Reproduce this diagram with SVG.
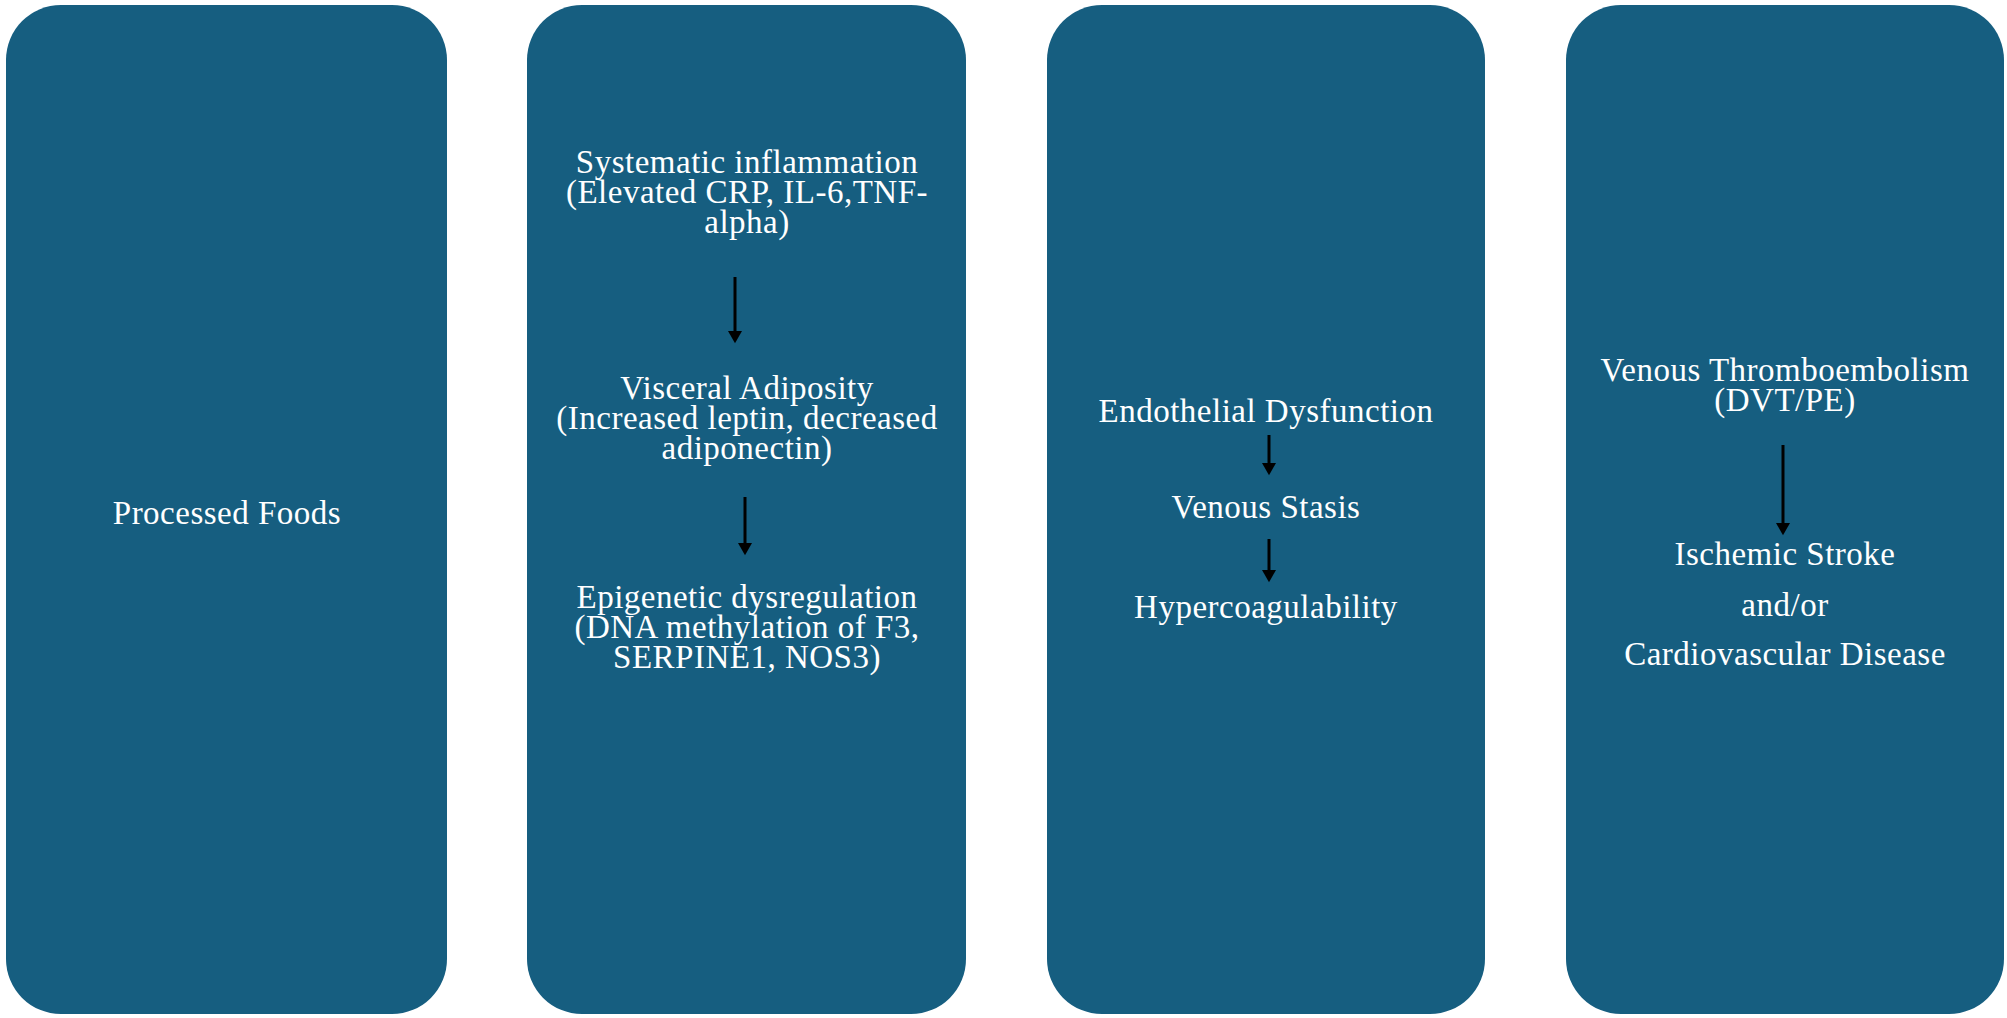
<svg xmlns="http://www.w3.org/2000/svg" width="2007" height="1018" viewBox="0 0 2007 1018">
<style>
.box{fill:#165e80;}
.t{font-family:"Liberation Serif","Times New Roman",serif;font-size:33px;fill:#ffffff;text-anchor:middle;letter-spacing:0.5px;}
.arr{stroke:#000;stroke-width:3;fill:none;}
</style>
<defs>
<marker id="ah" markerUnits="userSpaceOnUse" markerWidth="16" markerHeight="14" refX="0" refY="8" orient="auto" viewBox="0 0 14 16">
<path d="M0,0 L14,8 L0,16 Z" fill="#000"/>
</marker>
</defs>
<rect width="2007" height="1018" fill="#ffffff"/>
<g id="node-processed-foods">
<rect class="box" x="6" y="5" width="441" height="1009" rx="55" ry="55"/>
<text class="t" x="227" y="524">Processed Foods</text>
</g>
<g id="node-mechanisms">
<rect class="box" x="527" y="5" width="439" height="1009" rx="55" ry="55"/>
<text class="t" x="747" y="173">Systematic inflammation</text>
<text class="t" x="747" y="203">(Elevated CRP, IL-6,TNF-</text>
<text class="t" x="747" y="233">alpha)</text>
<text class="t" x="747" y="399">Visceral Adiposity</text>
<text class="t" x="747" y="429">(Increased leptin, decreased</text>
<text class="t" x="747" y="459">adiponectin)</text>
<text class="t" x="747" y="608">Epigenetic dysregulation</text>
<text class="t" x="747" y="638">(DNA methylation of F3,</text>
<text class="t" x="747" y="668">SERPINE1, NOS3)</text>
</g>
<g id="node-vascular">
<rect class="box" x="1047" y="5" width="438" height="1009" rx="55" ry="55"/>
<text class="t" x="1266" y="422">Endothelial Dysfunction</text>
<text class="t" x="1266" y="518">Venous Stasis</text>
<text class="t" x="1266" y="618">Hypercoagulability</text>
</g>
<g id="node-outcomes">
<rect class="box" x="1566" y="5" width="438" height="1009" rx="55" ry="55"/>
<text class="t" x="1785" y="381">Venous Thromboembolism</text>
<text class="t" x="1785" y="411">(DVT/PE)</text>
<text class="t" x="1785" y="565">Ischemic Stroke</text>
<text class="t" x="1785" y="616">and/or</text>
<text class="t" x="1785" y="665">Cardiovascular Disease</text>
</g>
<g id="connectors">
<line class="arr" x1="735" y1="277" x2="735" y2="331" marker-end="url(#ah)"/>
<line class="arr" x1="745" y1="497" x2="745" y2="543" marker-end="url(#ah)"/>
<line class="arr" x1="1269" y1="435" x2="1269" y2="463" marker-end="url(#ah)"/>
<line class="arr" x1="1269" y1="539" x2="1269" y2="570" marker-end="url(#ah)"/>
<line class="arr" x1="1783" y1="445" x2="1783" y2="523" marker-end="url(#ah)"/>
</g>
</svg>
